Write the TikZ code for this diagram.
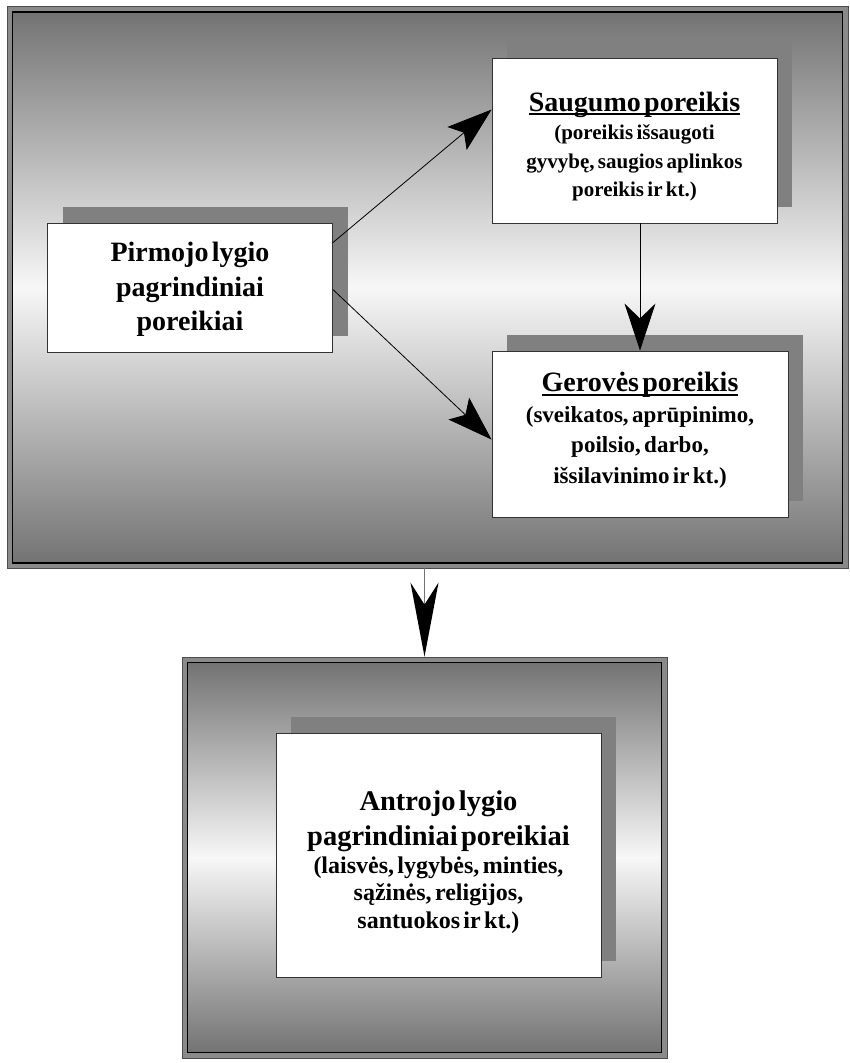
\documentclass[tikz,border=0pt]{standalone}
\usepackage{fontspec}
\setmainfont{Liberation Serif}
\usetikzlibrary{arrows.meta,calc,shadows}
\definecolor{bandgray}{HTML}{8A8A8A}
\definecolor{shadegray}{HTML}{737373}
\definecolor{lightshade}{HTML}{F7F7F7}
\definecolor{shadowgray}{HTML}{808080}

% heading underline: a heavy rule just under the baseline
\newcommand\ulbar[1]{\leavevmode\setbox0=\hbox{#1}\rlap{\rule[-4pt]{\wd0}{2pt}}\box0}

\begin{document}
\begin{tikzpicture}[x=1pt,y=-1pt,
  band/.style={draw=black!70, line width=0.8pt, fill=bandgray, inner sep=0pt},
  panel/.style={draw=black, line width=1.2pt, inner sep=0pt,
    top color=shadegray, bottom color=shadegray, middle color=lightshade},
  card/.style={draw=black!80, line width=0.9pt, fill=white, inner sep=0pt,
    general shadow={fill=shadowgray, shadow xshift=15pt, shadow yshift=16pt}},
  cardtext/.style={inner sep=0pt, align=center, font=\bfseries},
  link/.style={draw=black, line width=0.8pt},
]
\useasboundingbox (0,0) rectangle (849,1063);

% upper panel: gray band with a shaded inner field
\node[band, minimum width=841pt, minimum height=562pt] (upper) at (427.5,287) {};
\node[panel, minimum width=830pt, minimum height=551pt] (upperin) at (427.5,287.5) {};

% lower panel
\node[band, minimum width=485pt, minimum height=401pt] (lower) at (424.5,857.5) {};
\node[panel, minimum width=474pt, minimum height=390pt] (lowerin) at (424.5,857.5) {};

% first-level needs
\node[card, minimum width=285pt, minimum height=129pt] (pirm) at (190,287.5) {};
\node[cardtext, text width=285pt] (pirmtext) at ($(pirm.center)+(0,2)$)
  {\fontsize{28}{34.5}\selectfont Pirmojo lygio\\ pagrindiniai\\ poreikiai\par};

\node[card, minimum width=285pt, minimum height=165pt] (saug) at (634.5,140.5) {};
\node[cardtext, text width=285pt] (saugtext) at ($(saug.center)+(0,6)$)
  {{\fontsize{28}{34}\selectfont \ulbar{Saugumo poreikis}\par}%
   {\fontsize{21}{28.5}\selectfont (poreikis išsaugoti\\ gyvybę, saugios aplinkos\\ poreikis ir kt.)\par}};

\node[card, minimum width=296pt, minimum height=166pt] (ger) at (640,434) {};
\node[cardtext, text width=296pt] (gertext) at ($(ger.center)+(0,-4)$)
  {{\fontsize{28}{34}\selectfont \ulbar{Gerovės poreikis}\par}%
   {\fontsize{23}{30.5}\selectfont (sveikatos, aprūpinimo,\\ poilsio, darbo,\\ išsilavinimo ir kt.)\par}};

% second-level needs
\node[card, minimum width=325pt, minimum height=244pt] (antr) at (438.5,855) {};
\node[cardtext, text width=325pt] (antrtext) at ($(antr.center)+(0,7)$)
  {{\fontsize{28.5}{35.5}\selectfont Antrojo lygio\\ pagrindiniai poreikiai\par}%
   {\fontsize{24}{27.5}\selectfont (laisvės, lygybės, minties,\\ sąžinės, religijos,\\ santuokos ir kt.)\par}};

% connectors
\draw[link, -{Stealth[length=45pt,width=30pt,inset=9pt]}]
  ($(pirm.north east)+(0,20)$) -- ($(saug.north west)+(0,52)$);
\draw[link, -{Stealth[length=45pt,width=30pt,inset=9pt]}]
  ($(pirm.north east)+(0,67)$) -- ($(ger.north west)+(0,89)$);
\draw[link, -{Stealth[length=47pt,width=31pt,inset=15pt]}]
  (saug.south -| ger.north) -- (ger.north);
\draw[draw=black!55, line width=1.3pt, -{Stealth[length=74pt,width=28pt,inset=22pt,color=black]}]
  (upper.south -| lower.north) -- (lower.north);
\end{tikzpicture}
\end{document}
